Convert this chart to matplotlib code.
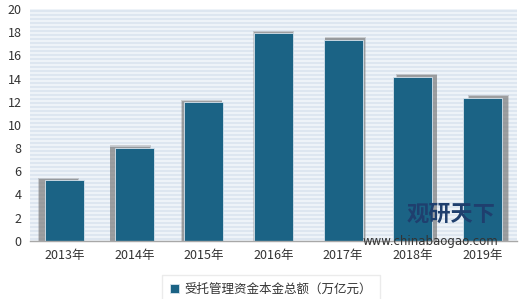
import matplotlib
matplotlib.use("Agg")
import matplotlib.pyplot as plt
import numpy as np

plt.rcParams['font.family'] = ['Noto Sans CJK SC', 'DejaVu Sans']

years = ['2013年', '2014年', '2015年', '2016年', '2017年', '2018年', '2019年']
values = [5.2, 8.0, 11.95, 17.9, 17.35, 14.15, 12.35]
series_name = '受托管理资金本金总额（万亿元）'
yticks = [0, 2, 4, 6, 8, 10, 12, 14, 16, 18, 20]

bar_color = '#1b6385'
fig = plt.figure(figsize=(5.2, 2.99), dpi=100)
ax = fig.add_axes([30/520, 58.3/299, 487/520, 231.7/299])
ax.set_facecolor('#eef3f8')

# striped background
for yy in np.arange(0.15, 20, 0.345):
    ax.axhline(yy, color='#d9e3ee', lw=1.1, zorder=0)

x = np.arange(len(years))
n = len(years)
# soft shadows
for i, v in enumerate(values):
    off = (i - (n - 1) / 2) * 0.03
    ax.bar(x[i] + off, v + 0.22, width=0.59, color='#8a8a8a',
           alpha=0.35, zorder=1, linewidth=0)
    ax.bar(x[i] + off, v + 0.12, width=0.57, color='#707070',
           alpha=0.5, zorder=1, linewidth=0)
ax.bar(x, values, width=0.56, color=bar_color, zorder=2,
       edgecolor='#d8e4ee', linewidth=0.6, label=series_name)

ax.set_xlim(-0.5, n - 0.5)
ax.set_ylim(0, 20)
ax.set_yticks(yticks)
ax.set_xticks(x)
ax.set_xticklabels(years)
ax.tick_params(axis='both', length=0, labelsize=9, colors='#333333')
ax.tick_params(axis='x', pad=6)
ax.tick_params(axis='y', pad=6)
for s in ['top', 'right', 'left']:
    ax.spines[s].set_visible(False)
ax.spines['bottom'].set_color('#a8a8a8')
ax.spines['bottom'].set_linewidth(1.0)

leg = fig.legend(loc='lower left', bbox_to_anchor=(156/520, -0.035), fontsize=9,
                 frameon=True, handlelength=0.7, handleheight=0.7, handletextpad=0.5,
                 borderpad=0.6, fancybox=False)
leg.get_frame().set_edgecolor('#e6e6e6')
leg.get_frame().set_linewidth(1.0)
for t in leg.get_texts():
    t.set_color('#333333')

# watermark
fig.text(451/520, 1 - 214/299, '观研天下', fontsize=16, fontweight='bold',
         color='#1f3f6e', ha='center', va='center')
fig.text(430/520, 1 - 242/299, 'www.chinabaogao.com', fontsize=8.5,
         color='#333333', ha='center', va='center', family='DejaVu Sans')

fig.savefig('out.png', dpi=100)
